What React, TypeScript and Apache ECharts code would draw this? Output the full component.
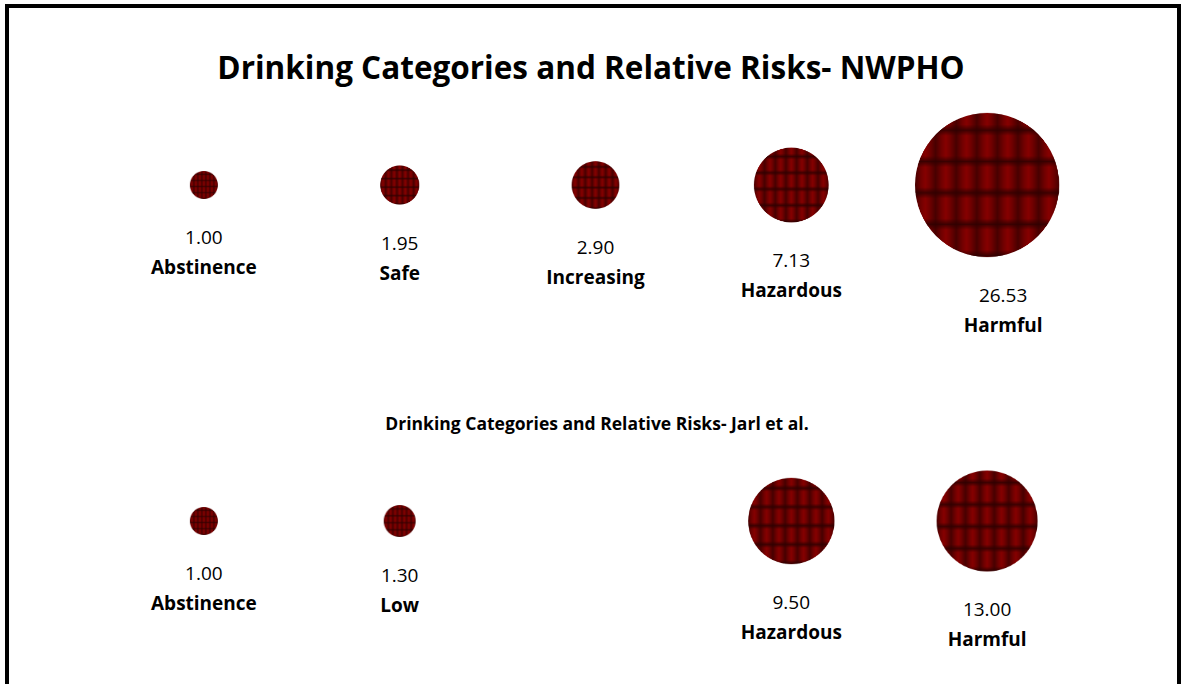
import React, { useEffect, useRef } from "react";
import * as echarts from "echarts";

const chartTitle = "Drinking Categories and Relative Risks- NWPHO";
const subTitle = "Drinking Categories and Relative Risks- Jarl et al.";

const nwphoCategories = ["Abstinence", "Safe", "Increasing", "Hazardous", "Harmful"];
const nwphoRisks = [1.0, 1.95, 2.9, 7.13, 26.53];
const nwphoX = [1, 2, 3, 4, 5];

const jarlCategories = ["Abstinence", "Low", "Hazardous", "Harmful"];
const jarlRisks = [1.0, 1.3, 9.5, 13.0];
const jarlX = [1, 2, 4, 5];

const FONT = "'Open Sans', Lato, sans-serif";

function makeTexture(): string {
  const S = 280;
  const c = document.createElement("canvas");
  c.width = S;
  c.height = S;
  const ctx = c.getContext("2d")!;
  ctx.save();
  ctx.beginPath();
  ctx.arc(S / 2, S / 2, S / 2, 0, Math.PI * 2);
  ctx.clip();
  const cols = 7;
  const rows = 4.6;
  const cw = S / cols;
  const rh = S / rows;
  for (let i = 0; i < cols; i++) {
    const x0 = i * cw;
    const g = ctx.createLinearGradient(x0, 0, x0 + cw, 0);
    g.addColorStop(0, "#480000");
    g.addColorStop(0.3, "#720000");
    g.addColorStop(0.5, "#860000");
    g.addColorStop(0.7, "#720000");
    g.addColorStop(1, "#480000");
    ctx.fillStyle = g;
    ctx.fillRect(x0, 0, cw + 0.5, S);
  }
  const phase = -rh * 0.45;
  for (let j = -1; j < rows + 2; j++) {
    const y0 = phase + j * rh;
    const g = ctx.createLinearGradient(0, y0, 0, y0 + rh);
    g.addColorStop(0, "rgba(45,0,0,0.8)");
    g.addColorStop(0.18, "rgba(45,0,0,0)");
    g.addColorStop(0.82, "rgba(45,0,0,0)");
    g.addColorStop(1, "rgba(45,0,0,0.8)");
    ctx.fillStyle = g;
    ctx.fillRect(0, y0, S, rh + 0.5);
  }
  ctx.restore();
  return c.toDataURL("image/png");
}

export default function App() {
  const ref = useRef<HTMLDivElement>(null);
  useEffect(() => {
    if (!ref.current) return;
    const chart = echarts.init(ref.current, undefined, { renderer: "svg" });
    const tex = "image://" + makeTexture();

    const build = (xs: number[], risks: number[], names: string[], rowY: number) =>
      risks.map((v, i) => ({
        value: [xs[i], rowY, v],
        name: names[i],
      }));

    const labelCfg = {
      show: true,
      position: "bottom",
      distance: 23,
      formatter: (p: any) => `{v|${p.value[2].toFixed(2)}}\n{n|${p.name}}`,
      rich: {
        v: { fontFamily: FONT, fontSize: 19, lineHeight: 30, color: "#000" },
        n: { fontFamily: FONT, fontSize: 19, fontWeight: "bold", lineHeight: 30, color: "#000" },
      },
    };

    const row1 = build(nwphoX, nwphoRisks, nwphoCategories, 1);
    (row1[4] as any).label = { offset: [16, 0] };

    const series = (name: string, data: any[]) => ({
      type: "scatter",
      name,
      clip: false,
      symbol: tex,
      symbolSize: (val: number[]) => 28 * Math.sqrt(val[2]),
      itemStyle: { opacity: 1 },
      data,
      label: labelCfg,
    });

    chart.setOption({
      animation: false,
      backgroundColor: "#fff",
      grid: { left: 106, right: 97, top: 185, bottom: 163 },
      xAxis: { type: "value", min: 0.5, max: 5.5, show: false },
      yAxis: { type: "value", min: 0, max: 1, show: false },
      graphic: [
        {
          type: "rect",
          shape: { x: 7, y: 6, width: 1172, height: 700 },
          style: { fill: "none", stroke: "#000", lineWidth: 4 },
          silent: true,
        },
        {
          type: "text",
          x: 591,
          y: 66,
          style: {
            text: chartTitle,
            fontFamily: FONT,
            fontSize: 31.5,
            fontWeight: "bold",
            fill: "#000",
            textAlign: "center",
            textVerticalAlign: "middle",
          },
        },
        {
          type: "text",
          x: 597,
          y: 423,
          style: {
            text: subTitle,
            fontFamily: FONT,
            fontSize: 17.5,
            fontWeight: "bold",
            fill: "#000",
            textAlign: "center",
            textVerticalAlign: "middle",
          },
        },
      ],
      series: [
        series("NWPHO", row1),
        series("Jarl et al.", build(jarlX, jarlRisks, jarlCategories, 0)),
      ],
    });
    return () => chart.dispose();
  }, []);
  return (
    <div
      ref={ref}
      style={{ position: "fixed", left: 0, top: 0, width: 1182, height: 684, background: "#fff" }}
    />
  );
}
